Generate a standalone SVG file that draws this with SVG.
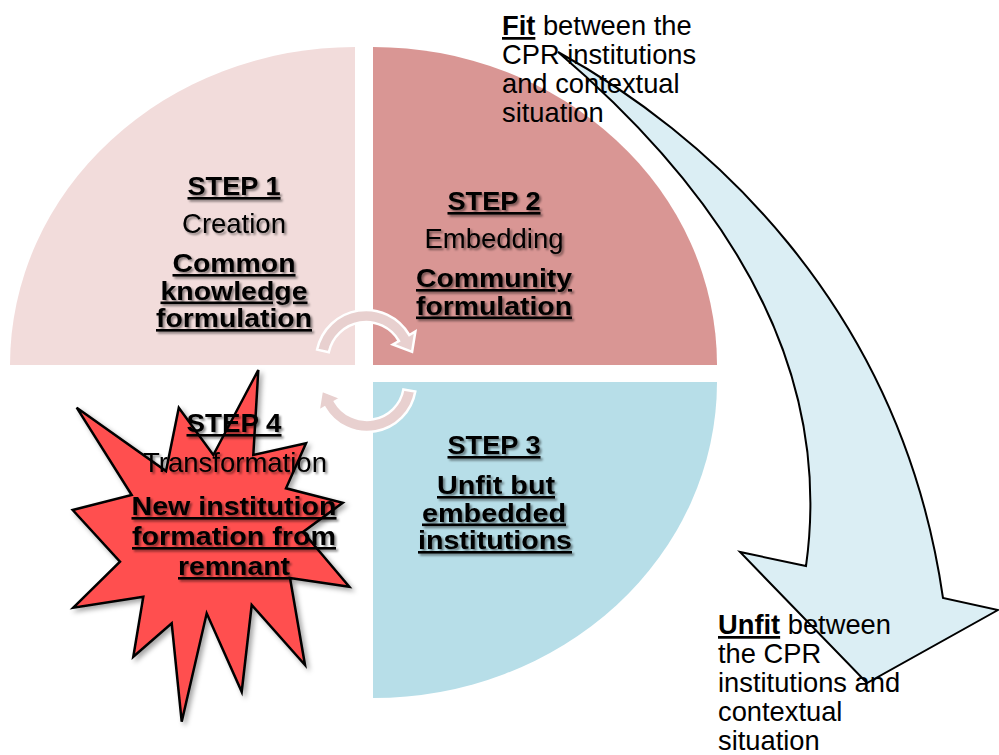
<svg xmlns="http://www.w3.org/2000/svg" width="999" height="755" viewBox="0 0 999 755">
<defs>
<filter id="tsh" x="-10%" y="-10%" width="130%" height="140%">
<feDropShadow dx="2" dy="2" stdDeviation="1.2" flood-color="#000" flood-opacity="0.45"/>
</filter>
<filter id="ssh" x="-10%" y="-10%" width="130%" height="130%">
<feDropShadow dx="3" dy="3" stdDeviation="2.5" flood-color="#000" flood-opacity="0.35"/>
</filter>
</defs>
<style>
.t{font-family:"Liberation Sans",Arial,sans-serif;fill:#000;}
.b{font-weight:bold;font-size:26px;text-decoration:underline;}
.r{font-size:27.5px;}
.m{text-anchor:middle;}
.lbl{font-size:27.3px;}
.carc{fill:#e8d0cf;stroke:#fff;stroke-width:2.5;}
</style>
<rect width="999" height="755" fill="#fff"/>
<g id="quadrants">
<path id="q1" d="M355,365 L10,365 A345,318 0 0 1 355,47 Z" fill="#f2dcdb"/>
<path id="q2" d="M373,365 L373,47 A344,318 0 0 1 717,365 Z" fill="#d99694"/>
<path id="q3" d="M373,382 L717,382 A344,316 0 0 1 373,698 Z" fill="#b7dee8"/>
</g>
<g id="star">
<polygon points="258.3,370 253.3,455 306,443.3 286,488.3 342.7,502.7 303,532 349.3,586.7 290,578 305,665 251.7,605 241.7,691.7 206.7,613.3 181.7,721.7 171.7,623.3 133.3,656.7 143.3,596.7 73.3,607.7 120,561.7 72.7,510 131.7,495 76.7,407.7 166,471 178.8,407.7 213.3,455" fill="#ff5050" stroke="#000" stroke-width="2.5" stroke-linejoin="miter" filter="url(#ssh)"/>
</g>
<g id="connectors">
<path id="cycle-top" class="carc" d="M317.1,349.6 A50,50 0 0 1 409.3,335 L415.4,331.5 L412.1,351.9 L392.8,344.5 L398.9,341 A38,38 0 0 0 328.8,352.3 Z"/>
<path id="cycle-bottom" class="carc" d="M403.4,389.4 L415.3,391.5 A49,49 0 0 1 324.6,407.5 L318.5,411 L321.8,390.6 L341,398 L335,401.5 A37,37 0 0 0 403.4,389.4 Z"/>
<path id="fit-arrow" d="M558,52 C700,130 900,300 943,598 L998,610 L867,683 L740,552 L806,566 C825,430 790,250 558,52 Z" fill="#dbeef4" stroke="#000" stroke-width="2" stroke-linejoin="miter"/>
</g>
<g id="step1" class="t m" filter="url(#tsh)">
<text class="b" x="234" y="195" textLength="93" lengthAdjust="spacingAndGlyphs">STEP 1</text>
<text class="r" x="234" y="233">Creation</text>
<text class="b" x="234" y="272" textLength="123" lengthAdjust="spacingAndGlyphs">Common</text>
<text class="b" x="234" y="299.5" textLength="147" lengthAdjust="spacingAndGlyphs">knowledge</text>
<text class="b" x="234" y="327" textLength="156" lengthAdjust="spacingAndGlyphs">formulation</text>
</g>
<g id="step2" class="t m" filter="url(#tsh)">
<text class="b" x="494" y="210" textLength="93" lengthAdjust="spacingAndGlyphs">STEP 2</text>
<text class="r" x="494" y="248">Embedding</text>
<text class="b" x="494" y="287" textLength="156" lengthAdjust="spacingAndGlyphs">Community</text>
<text class="b" x="494" y="314.5" textLength="156" lengthAdjust="spacingAndGlyphs">formulation</text>
</g>
<g id="step3" class="t m" filter="url(#tsh)">
<text class="b" x="494" y="454" textLength="93" lengthAdjust="spacingAndGlyphs">STEP 3</text>
<text class="b" x="496" y="494" textLength="118" lengthAdjust="spacingAndGlyphs">Unfit but</text>
<text class="b" x="494" y="521.5" textLength="144" lengthAdjust="spacingAndGlyphs">embedded</text>
<text class="b" x="495" y="549" textLength="154" lengthAdjust="spacingAndGlyphs">institutions</text>
</g>
<g id="step4" class="t m" filter="url(#tsh)">
<text class="b" x="234" y="432" textLength="95" lengthAdjust="spacingAndGlyphs">STEP 4</text>
<text class="r" x="235" y="472">Transformation</text>
<text class="b" x="234" y="515" textLength="205" lengthAdjust="spacingAndGlyphs">New institution</text>
<text class="b" x="234" y="545" textLength="204" lengthAdjust="spacingAndGlyphs">formation from</text>
<text class="b" x="234" y="575" textLength="112" lengthAdjust="spacingAndGlyphs">remnant</text>
</g>
<g id="fit-label" class="t lbl">
<text x="502" y="35"><tspan font-weight="bold" text-decoration="underline">Fit</tspan> between the</text>
<text x="502" y="64">CPR institutions</text>
<text x="502" y="93">and contextual</text>
<text x="502" y="122">situation</text>
</g>
<g id="unfit-label" class="t lbl">
<text x="718" y="634"><tspan font-weight="bold" text-decoration="underline">Unfit</tspan> between</text>
<text x="718" y="663">the CPR</text>
<text x="718" y="692">institutions and</text>
<text x="718" y="721">contextual</text>
<text x="718" y="750">situation</text>
</g>
</svg>
